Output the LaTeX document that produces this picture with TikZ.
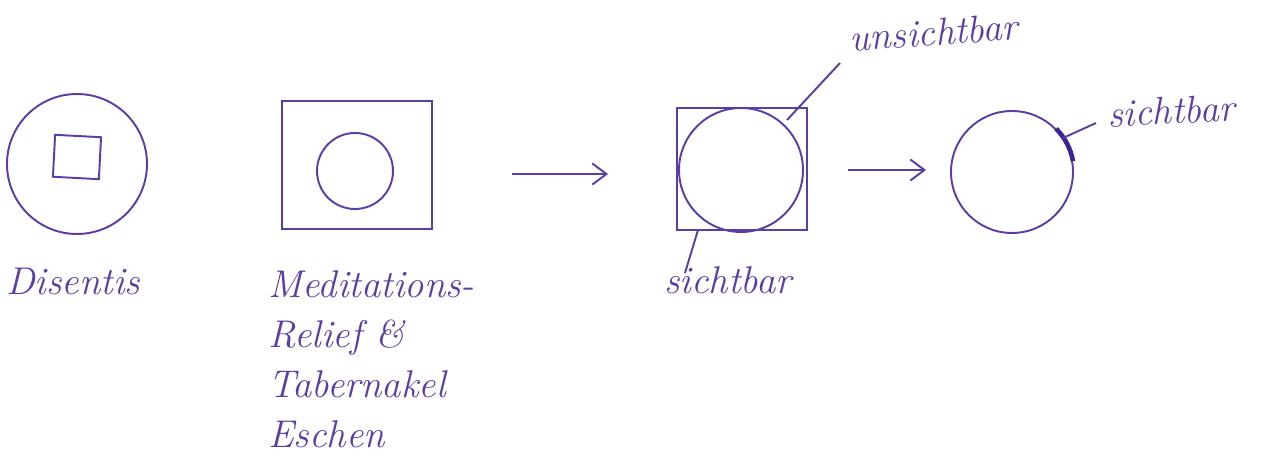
\documentclass[tikz,border=0pt]{standalone}
\usetikzlibrary{arrows.meta,positioning}
\definecolor{PenInk}{HTML}{5A3DA6}
\definecolor{PenDark}{HTML}{3F2396}

\begin{document}
\begin{tikzpicture}[x=0.02cm,y=-0.02cm,
  ink/.style={draw=PenInk,line width=1.1pt},
  handtext/.style={text=PenInk,font=\fontsize{22}{28.5}\selectfont\itshape,inner sep=0pt,align=left},
  penarrow/.style={ink,-{Straight Barb[length=8pt,width=12pt,line width=1.1pt]}}
]
\useasboundingbox (0,0) rectangle (1261,465);
% Disentis
\node[ink,circle,minimum size=140*0.02cm,inner sep=0pt] (disentis) at (77,164) {};
\node[ink,rectangle,minimum width=46*0.02cm,minimum height=42*0.02cm,rotate=-3] (disentissq) at (77,157) {};
\node[handtext,anchor=north west] (disentislbl) at (6,268) {Disentis};
% Meditations-Relief
\node[ink,rectangle,minimum width=150*0.02cm,minimum height=128*0.02cm] (relief) at (357,165) {};
\node[ink,circle,minimum size=76*0.02cm,inner sep=0pt] (reliefcirc) at (355,171) {};
\node[handtext,anchor=north west] (relieflbl) at (268,270) {Meditations-\\Relief \&\\Tabernakel\\Eschen};
\coordinate (arrowoneA) at (512,174);
\coordinate (arrowoneB) at (608,174);
\draw[penarrow] (arrowoneA) -- (arrowoneB);
% square with circle
\node[ink,rectangle,minimum width=130*0.02cm,minimum height=122*0.02cm] (cube) at (742,169) {};
\node[ink,circle,minimum size=124*0.02cm,inner sep=0pt] (cubecirc) at (741,170) {};
\node[handtext,anchor=south west,rotate=4] (unsichtlbl) at (850,52) {unsichtbar};
\node[handtext,anchor=north west] (sichtlblA) at (664,266) {sichtbar};
\coordinate (unsichtpt) at (787,120);
\coordinate (unsichtend) at (840,63);
\draw[ink] (unsichtpt) -- (unsichtend);
\coordinate (sichtptA) at (698,230);
\coordinate (sichtendA) at (685,273);
\draw[ink] (sichtptA) -- (sichtendA);
\coordinate (arrowtwoA) at (848,170);
\coordinate (arrowtwoB) at (926,170);
\draw[penarrow,line width=1.6pt] (arrowtwoA) -- (arrowtwoB);
% final circle
\node[ink,circle,minimum size=122*0.02cm,inner sep=0pt] (sphere) at (1012,172) {};
\draw[draw=PenDark,line width=2.6pt] (sphere.10) arc[start angle=10,end angle=45,radius=61*0.02cm];
\node[handtext,anchor=south west,rotate=3] (sichtlblB) at (1108,128) {sichtbar};
\coordinate (sichtptB) at (1063,138);
\coordinate (sichtendB) at (1096,123);
\draw[ink] (sichtptB) -- (sichtendB);
\end{tikzpicture}
\end{document}
